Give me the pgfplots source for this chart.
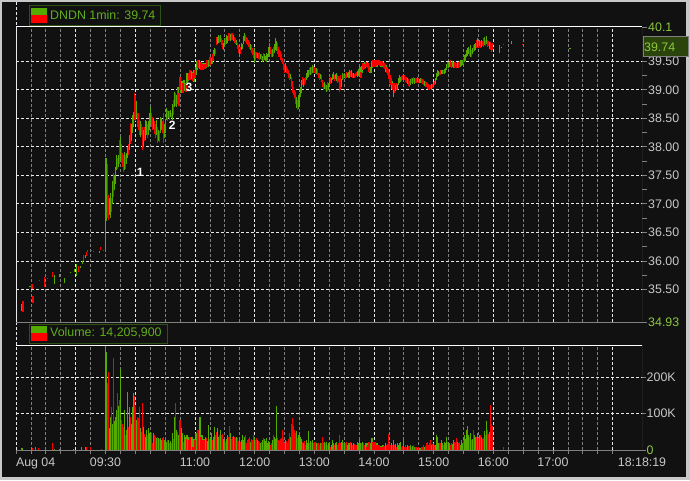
\documentclass[border=0pt]{standalone}
\usepackage{pgfplots}
\usepackage{pgfplotstable}
\pgfplotsset{compat=1.18}
\usepackage{fontspec}
\setmainfont{Liberation Sans}
\definecolor{bg}{HTML}{111111}
\definecolor{cgreen}{HTML}{55AA00}
\definecolor{cred}{HTML}{FF0000}
\definecolor{lgreen}{HTML}{8CC63F}
\definecolor{tgreen}{HTML}{62AE1E}
\definecolor{lgray}{HTML}{C8C8C8}
\definecolor{mgray}{HTML}{808080}
\definecolor{gridw}{HTML}{E8E8E8}
\definecolor{boxborder}{HTML}{2E5214}
\definecolor{pricebox}{HTML}{2A440C}
\definecolor{frame}{HTML}{C8C8C8}

\pgfplotstableread{
t l h v c
6 35.12 35.25 6 1
7 35.10 35.30 0 0
14 35.54 35.56 0 1
16 35.50 35.60 0 0
17 35.27 35.38 6 0
20 nan nan 9 1
23 nan nan 6 0
24 35.65 35.67 0 0
29 35.55 35.72 0 0
32 35.68 35.70 0 0
37 35.72 35.81 19 0
39 35.60 35.75 3 1
44 35.72 35.77 3 1
49 35.62 35.70 0 1
55 35.79 35.81 0 1
58 nan nan 4 1
59 35.81 35.86 0 1
61 35.74 35.95 0 1
63 35.81 35.92 0 0
65 35.87 35.92 0 1
66 nan nan 9 1
67 35.95 36.00 0 1
68 36.00 36.10 0 0
70 36.06 36.10 9 1
71 36.08 36.16 9 0
72 36.16 36.19 0 0
75 nan nan 9 0
76 36.18 36.20 0 0
78 36.16 36.18 0 0
84 36.14 36.18 0 1
85 36.19 36.24 0 0
86 nan nan 4 0
88 36.18 36.20 0 0
90 36.15 37.80 288 1
91 36.70 37.80 269 1
92 36.75 37.70 183 0
93 36.72 37.15 214 0
94 36.80 37.10 60 1
95 36.75 37.19 91 1
96 36.85 37.10 119 0
97 37.00 37.40 70 1
98 37.12 37.54 253 0
99 37.25 37.50 80 1
100 37.35 37.65 91 1
101 37.60 37.86 110 1
102 37.62 37.80 156 0
103 37.65 37.85 120 1
104 37.70 38.12 137 0
105 37.75 38.17 221 1
106 37.72 38.05 82 0
107 37.65 37.90 70 0
108 37.56 37.85 64 0
109 37.60 37.91 110 1
110 37.62 37.85 41 0
111 37.70 37.90 55 1
112 37.80 38.00 160 1
113 37.85 38.05 64 0
114 37.95 38.20 119 1
115 38.05 38.42 90 0
116 38.10 38.40 70 1
117 38.24 38.55 119 1
118 38.35 38.61 157 1
119 38.47 38.94 148 0
120 38.45 38.90 119 0
121 38.50 38.80 82 1
122 38.35 38.60 91 0
123 38.29 38.59 87 0
124 38.20 38.47 119 0
125 38.17 38.45 60 1
126 38.20 38.40 50 0
127 37.94 38.35 128 0
128 38.00 38.30 64 1
129 38.10 38.35 45 0
130 38.12 38.47 36 1
131 38.20 38.45 55 1
132 38.15 38.40 40 0
133 38.20 38.45 60 1
134 38.30 38.60 46 1
135 38.40 38.70 50 1
136 38.35 38.60 46 0
137 38.30 38.52 19 0
138 38.32 38.50 46 1
139 38.22 38.45 41 0
140 38.15 38.40 35 0
141 38.20 38.47 32 1
142 38.07 38.35 36 0
143 38.10 38.30 32 1
144 38.08 38.28 30 0
145 38.24 38.52 32 1
146 38.30 38.50 27 1
147 38.25 38.45 32 0
148 38.07 38.60 36 0
149 38.15 38.40 27 1
150 38.25 38.45 36 1
151 38.47 38.68 23 1
152 38.45 38.65 27 0
153 38.50 38.62 27 1
154 38.47 38.62 18 0
155 38.52 38.65 25 1
156 38.50 38.60 20 0
157 38.47 38.75 46 1
158 38.55 38.82 30 0
159 38.70 38.96 91 1
160 38.72 38.95 128 0
161 38.70 38.90 55 1
162 38.75 39.00 50 0
163 38.78 39.05 41 1
164 38.72 38.95 82 0
165 38.99 39.22 82 0
166 38.95 39.15 60 1
167 39.00 39.15 46 1
168 38.94 39.12 23 0
169 38.98 39.17 40 1
170 39.00 39.12 36 1
171 38.96 39.10 30 0
172 39.12 39.29 41 1
173 39.15 39.28 36 1
174 39.17 39.30 27 0
175 39.17 39.35 36 0
176 39.20 39.33 27 1
177 39.18 39.32 36 1
178 39.15 39.30 9 0
179 39.14 39.35 30 1
180 39.20 39.34 27 0
181 39.25 39.40 46 1
182 39.35 39.50 40 1
183 39.38 39.52 55 0
184 39.40 39.52 45 1
185 39.36 39.49 91 1
186 39.35 39.48 35 0
187 39.38 39.47 41 1
188 39.35 39.45 27 0
189 39.38 39.47 30 1
190 39.36 39.46 27 0
191 39.38 39.47 36 1
192 39.40 39.52 32 0
193 39.40 39.50 25 1
194 39.42 39.52 68 1
195 39.43 39.57 30 0
196 39.45 39.55 35 1
197 39.46 39.56 46 1
198 39.50 39.62 27 0
199 39.56 39.70 36 1
200 39.60 39.73 64 1
201 39.62 39.72 41 0
202 39.78 39.92 50 0
203 39.80 39.92 60 1
204 39.82 39.96 36 1
205 39.82 39.95 40 0
206 39.84 39.96 55 1
207 39.78 39.90 41 0
208 39.72 39.87 45 0
209 39.70 39.82 30 1
210 39.75 39.90 27 1
211 39.78 39.90 23 0
212 39.80 39.96 30 1
213 39.82 39.95 40 1
214 39.85 40.00 35 0
215 39.88 40.00 67 0
216 39.85 39.98 47 1
217 39.87 40.00 30 0
218 39.88 39.99 37 0
219 39.85 39.96 39 1
220 39.82 39.92 37 0
221 39.80 39.90 33 0
222 39.78 39.88 37 1
223 39.72 39.82 33 0
224 39.65 39.78 25 0
225 39.61 39.72 37 1
226 39.62 39.75 23 0
227 39.70 39.82 28 1
228 39.72 39.80 42 1
229 39.80 39.95 28 1
230 39.86 40.00 35 1
231 39.84 39.96 42 0
232 39.80 39.93 19 0
233 39.78 39.90 28 0
234 39.75 39.87 30 0
235 39.72 39.84 37 0
236 39.70 39.80 23 1
237 39.65 39.78 30 0
238 39.61 39.74 28 0
239 39.55 39.70 42 0
240 39.47 39.73 35 1
241 39.50 39.66 28 0
242 39.56 39.66 33 0
243 39.55 39.65 28 1
244 39.54 39.64 25 0
245 39.52 39.66 23 0
246 39.54 39.62 19 1
247 39.52 39.62 22 0
248 39.49 39.60 28 1
249 39.50 39.64 33 0
250 39.52 39.62 30 1
251 39.50 39.60 25 1
252 39.49 39.64 33 1
253 39.52 39.62 19 1
254 39.57 39.75 25 1
255 39.62 39.82 14 1
256 39.62 39.75 14 0
257 39.57 39.70 20 0
258 39.58 39.72 28 1
259 39.60 39.75 42 0
260 39.64 39.80 35 1
261 39.70 39.90 30 1
262 39.68 39.85 120 1
263 39.62 39.82 33 0
264 39.57 39.75 28 0
265 39.58 39.70 25 0
266 39.52 39.68 30 0
267 39.49 39.62 33 0
268 39.45 39.56 56 0
269 39.35 39.50 30 0
270 39.29 39.45 19 0
271 39.32 39.47 28 1
272 39.29 39.42 25 0
273 39.28 39.38 19 0
274 39.20 39.35 30 0
275 39.17 39.30 47 0
276 39.18 39.28 35 1
277 39.05 39.22 70 0
278 38.95 39.15 89 0
279 38.91 39.05 65 0
280 38.85 39.00 56 0
281 38.75 38.96 47 0
282 38.68 38.88 51 1
283 38.65 38.82 33 0
284 38.66 38.90 40 1
285 38.75 38.94 47 1
286 38.87 39.05 35 1
287 38.95 39.17 30 1
288 39.08 39.22 23 0
289 39.05 39.18 19 1
290 39.08 39.20 25 0
291 39.12 39.22 14 0
292 39.17 39.30 28 1
293 39.20 39.35 20 1
294 39.22 39.35 51 1
295 39.26 39.38 19 0
296 39.25 39.40 25 1
297 39.28 39.40 22 0
298 39.29 39.43 28 1
299 39.30 39.42 19 0
300 39.30 39.40 22 0
301 39.28 39.38 23 0
302 39.27 39.38 19 1
303 39.26 39.36 20 0
304 39.20 39.30 19 0
305 39.17 39.29 14 0
306 39.18 39.28 18 1
307 39.14 39.25 20 0
308 39.05 39.17 37 0
309 39.00 39.12 19 0
310 39.02 39.14 22 1
311 39.00 39.10 20 0
312 38.96 39.08 23 1
313 38.98 39.14 14 0
314 39.00 39.12 18 1
315 39.08 39.20 19 1
316 39.10 39.22 9 0
317 39.12 39.20 15 1
318 39.17 39.28 28 1
319 39.18 39.31 20 1
320 39.16 39.26 14 0
321 39.18 39.28 18 1
322 39.15 39.29 23 1
323 39.12 39.25 14 0
324 39.14 39.24 18 0
325 38.96 39.20 42 0
326 39.00 39.26 19 0
327 39.05 39.18 22 1
328 39.17 39.29 28 1
329 39.18 39.28 19 0
330 39.20 39.30 20 1
331 39.18 39.27 19 0
332 39.20 39.32 23 0
333 39.22 39.30 14 1
334 39.21 39.32 18 1
335 39.20 39.35 19 1
336 39.22 39.33 23 0
337 39.22 39.34 20 1
338 39.20 39.29 14 0
339 39.21 39.30 19 1
340 39.20 39.28 17 0
341 39.22 39.30 15 0
342 39.24 39.32 14 0
343 39.23 39.31 23 1
344 39.25 39.33 18 1
345 39.24 39.36 28 1
346 39.26 39.40 20 1
347 39.20 39.32 19 0
348 39.30 39.42 23 1
349 39.35 39.47 20 0
350 39.36 39.46 14 0
351 39.38 39.48 18 1
352 39.40 39.49 9 0
353 39.40 39.48 19 1
354 39.38 39.47 15 0
355 39.32 39.42 23 0
356 39.29 39.40 14 1
357 39.30 39.40 18 1
358 39.38 39.50 33 1
359 39.40 39.52 23 0
360 39.42 39.50 20 1
361 39.40 39.52 23 0
362 39.42 39.52 14 0
363 39.40 39.50 19 1
364 39.43 39.52 15 0
365 39.44 39.52 14 0
366 39.42 39.50 9 0
367 39.40 39.49 12 1
368 39.42 39.50 9 0
369 39.40 39.48 14 1
370 39.38 39.47 12 0
371 39.36 39.46 10 0
372 39.32 39.43 19 1
373 39.29 39.40 14 0
374 39.25 39.36 16 0
375 39.18 39.31 45 0
376 39.12 39.25 18 0
377 39.08 39.20 14 0
378 39.02 39.15 19 1
379 39.00 39.12 14 0
380 38.87 39.10 28 1
381 38.95 39.12 14 0
382 38.98 39.08 16 1
383 39.00 39.12 9 0
384 39.00 39.10 19 1
385 39.08 39.20 15 1
386 39.12 39.26 19 1
387 39.14 39.22 23 1
388 39.15 39.24 9 0
389 39.17 39.25 12 0
390 39.16 39.24 28 1
391 39.17 39.25 9 0
392 39.14 39.22 14 0
393 39.12 39.22 9 0
394 39.10 39.20 14 1
395 39.06 39.18 12 0
396 39.05 39.16 10 0
397 39.08 39.18 14 1
398 39.12 39.20 9 0
399 39.10 39.20 11 1
400 39.12 39.22 14 0
401 39.10 39.20 9 1
402 39.12 39.21 8 0
403 39.12 39.20 9 0
404 39.13 39.22 5 1
405 39.12 39.20 7 0
406 39.11 39.19 5 1
407 39.12 39.21 5 1
408 39.12 39.20 9 0
409 39.10 39.19 8 0
410 39.08 39.17 14 0
411 39.07 39.16 9 1
412 39.05 39.15 12 0
413 39.04 39.13 19 0
414 39.02 39.12 23 0
415 39.00 39.10 14 0
416 39.00 39.09 18 0
417 39.01 39.08 28 0
418 39.00 39.10 14 1
419 39.03 39.10 16 0
420 39.05 39.14 19 1
421 39.08 39.15 14 0
422 39.10 39.20 15 1
423 39.17 39.30 42 1
424 39.22 39.35 37 1
425 39.24 39.33 20 1
426 39.25 39.32 19 0
427 39.26 39.34 19 0
428 39.27 39.34 28 1
429 39.28 39.35 18 1
430 39.27 39.34 14 0
431 39.28 39.36 23 1
432 39.30 39.38 18 1
433 39.35 39.45 37 1
434 39.38 39.49 23 0
435 39.38 39.48 20 1
436 39.40 39.50 18 1
437 39.40 39.52 14 0
438 39.38 39.48 19 0
439 39.40 39.50 17 1
440 39.39 39.48 28 1
441 39.38 39.48 23 0
442 39.40 39.49 18 0
443 39.38 39.47 33 0
444 39.39 39.48 23 1
445 39.38 39.48 20 0
446 39.40 39.50 23 0
447 39.40 39.52 14 1
448 39.42 39.52 28 1
449 39.43 39.53 20 1
450 39.45 39.56 28 0
451 39.48 39.61 42 1
452 39.50 39.62 30 1
453 39.57 39.70 56 1
454 39.60 39.73 65 1
455 39.62 39.75 40 1
456 39.60 39.72 35 0
457 39.58 39.78 47 1
458 39.57 39.70 28 0
459 39.62 39.74 30 1
460 39.66 39.78 56 0
461 39.68 39.80 42 1
462 39.70 39.82 35 1
463 39.73 39.88 37 0
464 39.75 39.90 47 1
465 39.74 39.86 33 0
466 39.76 39.88 40 1
467 39.74 39.86 42 0
468 39.75 39.87 37 1
469 39.76 39.85 30 0
470 39.75 39.90 33 0
471 39.78 39.92 51 1
472 39.76 39.88 40 0
473 39.80 39.94 79 1
474 39.75 39.87 56 0
475 39.76 39.86 45 0
476 39.72 39.84 50 1
477 39.70 39.84 123 0
478 39.66 39.80 70 0
479 39.70 39.82 65 0
480 39.79 39.81 0 0
486 39.64 39.78 0 1
488 39.73 39.75 0 1
490 39.79 39.81 9 0
498 39.80 39.85 0 1
509 39.79 39.81 0 0
557 39.72 39.74 0 1
601 39.75 39.78 0 0
}\pricedata

\pgfplotsset{
  chartbase/.style={
    scale only axis, width=626pt,
    xmin=0, xmax=629.5,
    axis line style={draw=none},
    xtick={0,60,...,600}, minor x tick num=3,
    xmajorgrids, xminorgrids, ymajorgrids,
    major grid style={gridw, dash pattern=on 3pt off 2pt, line width=0.8pt},
    minor grid style={mgray, dash pattern=on 3pt off 2pt, line width=0.8pt},
    xticklabels={},
    ytick pos=right, yticklabel pos=right, tick align=outside,
    major tick length=5pt, minor tick length=5pt,
    y tick style={mgray, line width=0.8pt},
    ticklabel style={font=\fontsize{12.4}{14}\selectfont, text=lgray},
    yticklabel style={anchor=west, inner sep=0pt, xshift=1pt},
  },
  candle/.style={draw=none, mark=none,
    /pgfplots/error bars/y dir=plus,
    /pgfplots/error bars/y explicit,
    /pgfplots/error bars/error mark=none,
    /pgfplots/error bars/error bar style={draw=#1, solid, line width=1.2pt}},
}

\begin{document}
\begin{tikzpicture}[x=1pt,y=1pt]
\useasboundingbox (0,0) rectangle (690,480);
\fill[frame] (0,0) rectangle (690,480);
\fill[bg] (1.7,3) rectangle (686,478.3);
\draw[gridw, dash pattern=on 3pt off 2pt, line width=0.8pt] (16.5,135) -- (16.5,478.3);

% price panel
\begin{axis}[chartbase, at={(16pt,158pt)}, anchor=south west,
  height=295pt, ymin=34.93, ymax=40.1,
  x tick style={draw=none},
  ytick={35.5,36,36.5,37,37.5,38,38.5,39,39.5},
  yticklabels={35.50,36.00,36.50,37.00,37.50,38.00,38.50,39.00,39.50},
  minor y tick num=1,
  extra y ticks={34.93,40.1},
  extra y tick labels={\textcolor{lgreen}{34.93},\textcolor{lgreen}{40.1}},
  extra y tick style={grid=none},
]
\addplot[restrict expr to domain={\thisrow{c}}{0.5:1.5}, candle=cgreen]
  table[x=t, y=l, y error plus expr=\thisrow{h}-\thisrow{l}] {\pricedata};
\addplot[restrict expr to domain={\thisrow{c}}{-0.5:0.5}, candle=cred]
  table[x=t, y=l, y error plus expr=\thisrow{h}-\thisrow{l}] {\pricedata};
\draw[white, line width=1pt] (rel axis cs:0,1) -- (rel axis cs:1,1);
\draw[mgray, line width=1pt] (rel axis cs:0,0) -- (rel axis cs:1,0);
\draw[mgray, line width=1pt] (rel axis cs:1,0) -- (rel axis cs:1,1);
\node[white, font=\bfseries\fontsize{12}{14}\selectfont] at (axis cs:125,37.56) {1};
\node[white, font=\bfseries\fontsize{12}{14}\selectfont] at (axis cs:157,38.38) {2};
\node[white, font=\bfseries\fontsize{12}{14}\selectfont] at (axis cs:174,39.05) {3};
\end{axis}

% volume panel
\begin{axis}[chartbase, at={(16pt,30pt)}, anchor=south west,
  height=105pt, ymin=0, ymax=287.7,
  ytick={0,100,200},
  yticklabels={\textcolor{lgreen}{0},100K,200K},
  x tick style={mgray, line width=0.8pt},
  xtick pos=bottom, x tick label style={yshift=-1pt},
  major tick length=3.5pt, minor tick length=3.5pt,
  extra x ticks={0,90,180,240,300,360,420,480,540,629.5},
  extra x tick labels={\makebox[0pt][l]{Aug 04},09:30,11:00,12:00,13:00,14:00,15:00,16:00,17:00,18:18:19},
  extra x tick style={grid=none, tick style={draw=none}},
]
\addplot[ycomb, cgreen, line width=1.1pt, restrict expr to domain={\thisrow{c}}{0.5:1.5}]
  table[x=t, y=v] {\pricedata};
\addplot[ycomb, cred, line width=1.1pt, restrict expr to domain={\thisrow{c}}{-0.5:0.5}]
  table[x=t, y=v] {\pricedata};
\draw[white, line width=1pt] (rel axis cs:0,1) -- (rel axis cs:1,1);
\draw[mgray, line width=1pt] (rel axis cs:0,0) -- (rel axis cs:1,0);
\draw[mgray, line width=1pt] (rel axis cs:1,0) -- (rel axis cs:1,1);
\end{axis}

% legends and price box
\draw[boxborder, line width=1pt, fill=bg] (29,454) rectangle (160,474);
\fill[cgreen] (31,465) rectangle (47,472);
\fill[cred] (31,457) rectangle (47,465);
\node[anchor=west, inner sep=0pt, text=tgreen, font=\fontsize{12.4}{14}\selectfont] at (50,464.5) {DNDN 1min: 39.74};

\draw[boxborder, line width=1pt, fill=bg] (29,137) rectangle (167,156);
\fill[cgreen] (31,147) rectangle (47,154);
\fill[cred] (31,139) rectangle (47,147);
\node[anchor=west, inner sep=0pt, text=tgreen, font=\fontsize{12.4}{14}\selectfont] at (50,147) {Volume: 14,205,900};

\draw[mgray, line width=1pt, fill=pricebox] (643,423) rectangle (688,443);
\node[anchor=west, inner sep=0pt, text=lgreen, font=\fontsize{12.4}{14}\selectfont] at (644,433) {39.74};
\end{tikzpicture}
\end{document}
